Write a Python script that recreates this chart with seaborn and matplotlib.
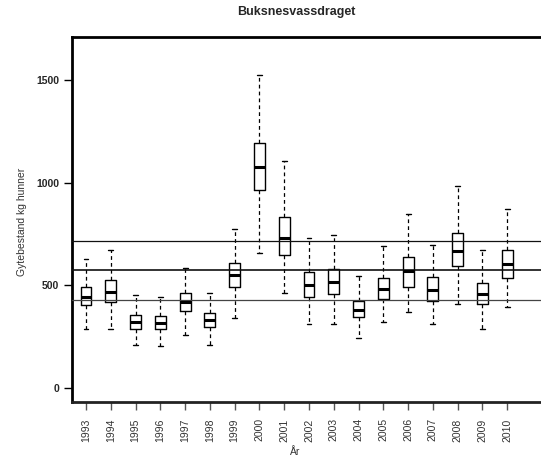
import numpy as np
import pandas as pd
import matplotlib
matplotlib.use("Agg")
import matplotlib.pyplot as plt
import seaborn as sns

# Spawning stock (kg females) per year: whisker ends, quartiles and median
years = [1993, 1994, 1995, 1996, 1997, 1998, 1999, 2000, 2001,
         2002, 2003, 2004, 2005, 2006, 2007, 2008, 2009, 2010]
lower = [285, 285, 207, 203, 257, 210, 340, 659, 462,
         309, 309, 241, 319, 369, 312, 408, 285, 395]
q1 = [402, 420, 288, 285, 374, 295, 493, 964, 646,
      444, 459, 343, 431, 493, 424, 592, 407, 537]
median = [444, 468, 319, 316, 417, 329, 550, 1075, 732,
          500, 517, 380, 483, 569, 477, 668, 459, 605]
q3 = [490, 524, 353, 350, 460, 363, 610, 1195, 834,
      563, 577, 424, 537, 636, 540, 753, 512, 673]
upper = [626, 673, 452, 441, 585, 464, 773, 1525, 1107,
         729, 746, 543, 691, 846, 698, 984, 673, 873]

# Reference levels drawn across the plot
ref_levels = [714, 573, 428]
ref_widths = [0.9, 1.2, 0.9]
ref_colors = ["#111111", "#111111", "#444444"]

# Five values per year reproduce the box statistics exactly
rows = []
for yr, a, b, c, d, e in zip(years, lower, q1, median, q3, upper):
    for v in (a, b, c, d, e):
        rows.append({"year": str(yr), "value": v})
df = pd.DataFrame(rows)

sns.set_style("white")
plt.rcParams["font.family"] = ["Liberation Sans", "DejaVu Sans"]

fig = plt.figure(figsize=(5.41, 4.61), dpi=100)
ax = fig.add_axes([71.7 / 541, 1 - 401.7 / 461, 1 - 71.7 / 541, (401.7 - 37.3) / 461])

sns.boxplot(
    data=df, x="year", y="value", ax=ax, fill=False,
    whis=np.inf, width=0.44, color="black", linecolor="black", linewidth=1.0,
    boxprops=dict(color="black", linewidth=1.0),
    medianprops=dict(color="black", linewidth=2.2, zorder=4),
    whiskerprops=dict(color="black", linewidth=0.9, linestyle=(0, (3, 2.5))),
    capprops=dict(color="black", linewidth=1.0),
    showfliers=False,
)

# Shorter whisker caps
for line in ax.lines:
    xd = np.asarray(line.get_xdata(), dtype=float)
    yd = np.asarray(line.get_ydata(), dtype=float)
    if len(xd) == 2 and yd[0] == yd[1] and abs(xd[1] - xd[0]) > 0 and line.get_linewidth() < 1.5:
        cx = xd.mean()
        line.set_xdata([cx - 0.1, cx + 0.1])

for lvl, lw, c in zip(ref_levels, ref_widths, ref_colors):
    ax.axhline(lvl, color=c, lw=lw, zorder=3)

ax.set_xlim(-0.577, (541 - 86) / 24.78)
ax.set_ylim(-68, 1709)
ax.set_yticks([0, 500, 1000, 1500])
ax.set_yticklabels(["0", "500", "1000", "1500"], fontweight="bold", fontsize=7.5)
ax.set_xticks(range(len(years)))
ax.set_xticklabels([str(y) for y in years], rotation=90, fontsize=7.5, color="#333333")

ax.tick_params(axis="y", direction="out", length=6, width=1.0, color="black", pad=3, left=True)
ax.tick_params(axis="x", direction="out", length=6, width=1.0, color="#555555", pad=6, bottom=True)

for side in ("left", "top", "bottom"):
    ax.spines[side].set_visible(True)
    ax.spines[side].set_color("black")
    ax.spines[side].set_linewidth(2.0)
ax.spines["bottom"].set_color("#222222")
ax.spines["right"].set_visible(False)

ax.set_xlabel("")
ax.set_ylabel("")
fig.text(296 / 541, 1 - 12 / 461, "Buksnesvassdraget", ha="center", va="center",
         fontsize=9, fontweight="bold")
fig.text(22 / 541, 1 - 222 / 461, "Gytebestand kg hunner", ha="center", va="center",
         rotation=90, fontsize=7.5, color="#333333")
fig.text(295 / 541, 1 - 452 / 461, "År", ha="center", va="center", fontsize=7.5, color="#333333")

fig.savefig("out.png", dpi=100)
